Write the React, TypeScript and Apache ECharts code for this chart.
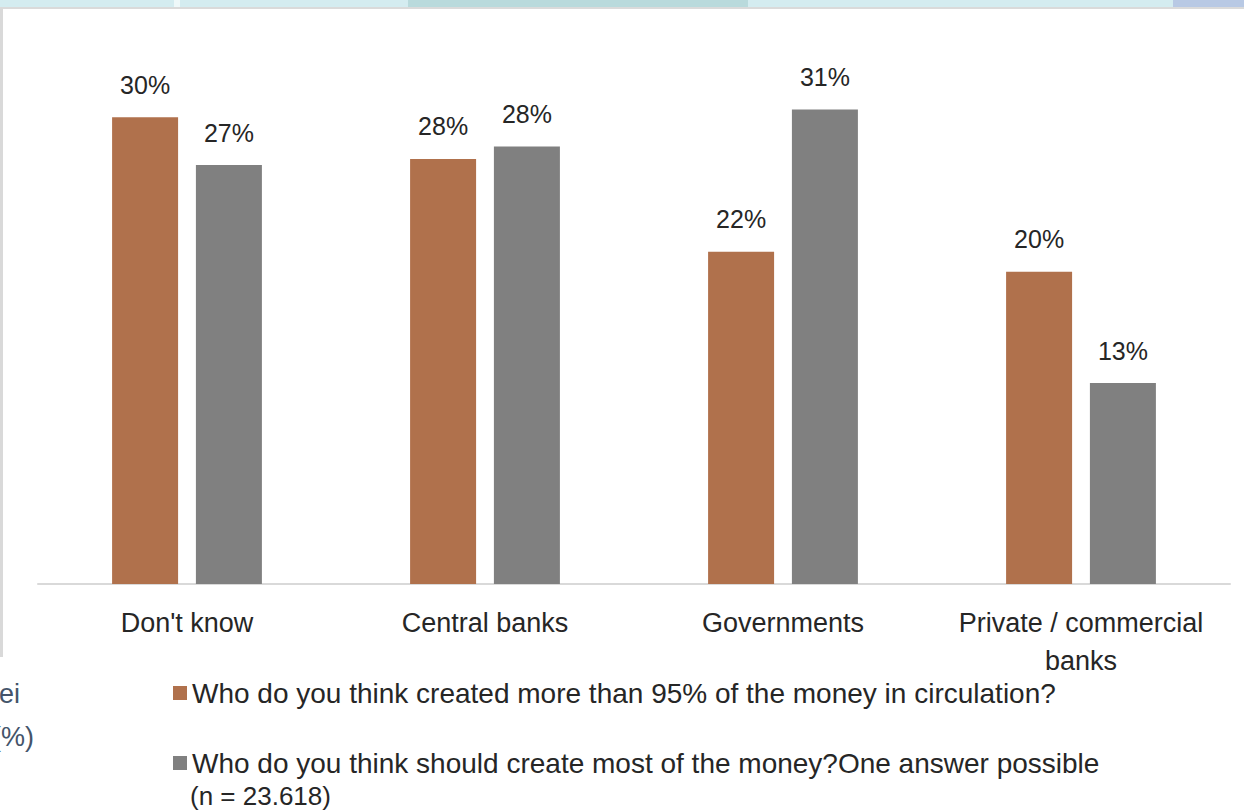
import React, { useEffect, useRef } from "react";
import * as echarts from "echarts";

const categories = ["Don't know", "Central banks", "Governments", "Private / commercial\nbanks"];
const seriesNames = [
  "Who do you think created more than 95% of the money in circulation?",
  "Who do you think should create most of the money?One answer possible",
];
const createdValues = [30.2, 27.5, 21.5, 20.2];
const shouldCreateValues = [27.1, 28.3, 30.7, 13.0];
const sampleNote = "(n = 23.618)";
const sideTexts = ["ei", "(%)"];

const ORANGE = "#B0714C";
const GRAY = "#808080";
const FONT = "'Liberation Sans', Arial, sans-serif";

export default function App() {
  const ref = useRef<HTMLDivElement>(null);
  useEffect(() => {
    if (!ref.current) return;
    const chart = echarts.init(ref.current, undefined, { renderer: "svg" });
    const labelCfg = {
      show: true,
      position: "top" as const,
      distance: 20,
      color: "#262626",
      fontSize: 25,
      fontFamily: FONT,
      formatter: (p: any) => Math.round(p.value) + "%",
    };
    const legendText = { color: "#262626", fontSize: 28, fontFamily: FONT, lineHeight: 30 };
    chart.setOption({
      animation: false,
      backgroundColor: "#ffffff",
      grid: { left: 38, right: 14, top: 43, bottom: 227, containLabel: false },
      xAxis: {
        type: "category",
        data: categories,
        axisLine: { show: true, lineStyle: { color: "#d9d9d9", width: 2 } },
        axisTick: { show: false },
        axisLabel: {
          color: "#262626",
          fontSize: 27,
          fontFamily: FONT,
          margin: 20,
          lineHeight: 38,
          interval: 0,
        },
      },
      yAxis: { type: "value", min: 0, max: 35, show: false, splitLine: { show: false } },
      legend: [
        {
          data: [seriesNames[0]],
          left: 168,
          top: 673,
          itemWidth: 14,
          itemHeight: 14,
          icon: "rect",
          textStyle: legendText,
          selectedMode: false,
        },
        {
          data: [seriesNames[1]],
          left: 168,
          top: 743,
          itemWidth: 14,
          itemHeight: 14,
          icon: "rect",
          textStyle: legendText,
          selectedMode: false,
        },
      ],
      series: [
        {
          name: seriesNames[0],
          type: "bar",
          data: createdValues,
          barWidth: 66,
          barGap: "27%",
          itemStyle: { color: ORANGE },
          label: labelCfg,
        },
        {
          name: seriesNames[1],
          type: "bar",
          data: shouldCreateValues,
          barWidth: 66,
          barGap: "27%",
          itemStyle: { color: GRAY },
          label: labelCfg,
        },
      ],
      graphic: [
        { type: "rect", shape: { x: 0, y: 0, width: 1244, height: 8 }, style: { fill: "#d4ecf0" }, silent: true },
        { type: "rect", shape: { x: 408, y: 0, width: 340, height: 8 }, style: { fill: "#b9dadc" }, silent: true },
        { type: "rect", shape: { x: 1173, y: 0, width: 71, height: 8 }, style: { fill: "#b8c9e4" }, silent: true },
        { type: "rect", shape: { x: 174, y: 0, width: 6, height: 8 }, style: { fill: "#eef8f9" }, silent: true },
        { type: "rect", shape: { x: 0, y: 7, width: 1244, height: 2 }, style: { fill: "#dadada" }, silent: true },
        { type: "rect", shape: { x: 0, y: 9, width: 3, height: 648 }, style: { fill: "#d9d9d9" }, silent: true },
        {
          type: "text",
          x: -1,
          y: 694,
          style: { text: sideTexts[0], fontSize: 27, fontFamily: FONT, fill: "#44546A", verticalAlign: "middle" },
        },
        {
          type: "text",
          x: -8,
          y: 737,
          style: { text: sideTexts[1], fontSize: 27, fontFamily: FONT, fill: "#44546A", verticalAlign: "middle" },
        },
        {
          type: "text",
          x: 190,
          y: 796,
          style: { text: sampleNote, fontSize: 26, fontFamily: FONT, fill: "#262626", verticalAlign: "middle" },
        },
      ],
    });
    return () => chart.dispose();
  }, []);
  return (
    <div
      ref={ref}
      style={{ position: "fixed", left: 0, top: 0, width: 1244, height: 811, background: "#fff" }}
    />
  );
}
